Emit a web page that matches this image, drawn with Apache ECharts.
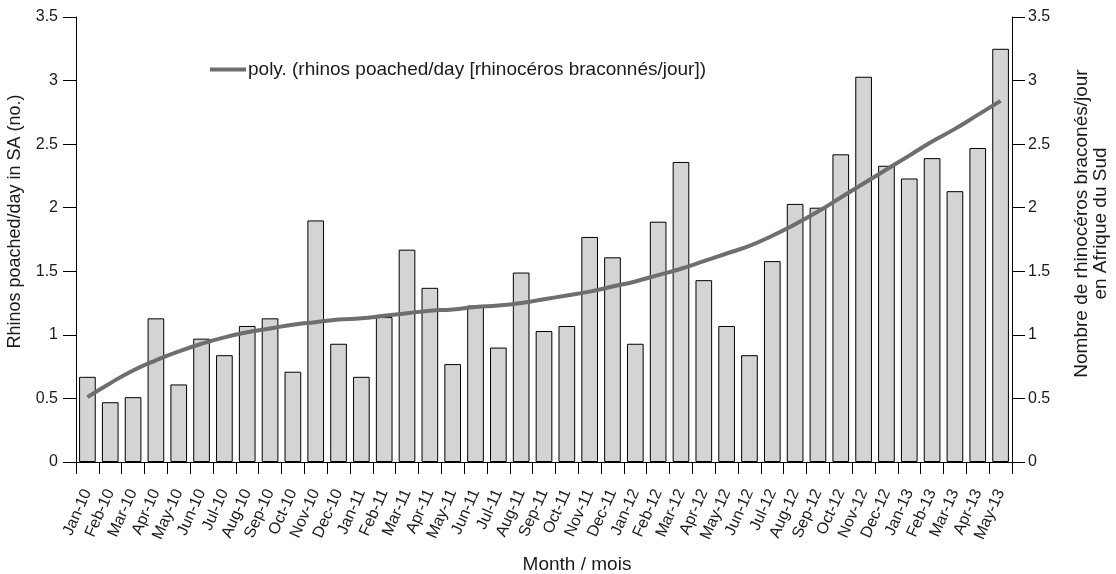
<!DOCTYPE html>
<html>
<head>
<meta charset="utf-8">
<script src="https://cdn.jsdelivr.net/npm/echarts@6/dist/echarts.min.js"></script>
<style>
  html, body { margin: 0; padding: 0; background: #fff; }
  #chart { width: 1116px; height: 574px; }
</style>
</head>
<body>
<div id="chart"></div>
<script>
// months Jan-10 .. May-13
var months = ['Jan-10','Feb-10','Mar-10','Apr-10','May-10','Jun-10','Jul-10','Aug-10','Sep-10','Oct-10','Nov-10','Dec-10',
  'Jan-11','Feb-11','Mar-11','Apr-11','May-11','Jun-11','Jul-11','Aug-11','Sep-11','Oct-11','Nov-11','Dec-11',
  'Jan-12','Feb-12','Mar-12','Apr-12','May-12','Jun-12','Jul-12','Aug-12','Sep-12','Oct-12','Nov-12','Dec-12',
  'Jan-13','Feb-13','Mar-13','Apr-13','May-13'];
// rhinos poached per day (bars)
var poached = [0.67,0.47,0.51,1.13,0.61,0.97,0.84,1.07,1.13,0.71,1.90,0.93,
  0.67,1.14,1.67,1.37,0.77,1.23,0.90,1.49,1.03,1.07,1.77,1.61,
  0.93,1.89,2.36,1.43,1.07,0.84,1.58,2.03,2.00,2.42,3.03,2.33,
  2.23,2.39,2.13,2.47,3.25];
// polynomial trend
var trend = [0.51,0.62,0.72,0.80,0.87,0.93,0.98,1.02,1.05,1.08,1.10,1.12,
  1.13,1.15,1.17,1.19,1.20,1.22,1.23,1.25,1.28,1.31,1.34,1.38,
  1.42,1.47,1.52,1.58,1.64,1.70,1.78,1.87,1.97,2.08,2.19,2.30,
  2.41,2.52,2.62,2.73,2.84];
var yTicks = { min: 0, max: 3.5, interval: 0.5 };

var font = '"Liberation Sans", Arial, sans-serif';
var ink = '#1a1a1a';

var chart = echarts.init(document.getElementById('chart'));
chart.setOption({
  animation: false,
  textStyle: { fontFamily: font, color: ink },
  grid: { left: 76, right: 104, top: 17, bottom: 112, containLabel: false, outerBoundsMode: 'none' },
  legend: {
    left: 205, top: 55,
    data: [{ name: 'poly. (rhinos poached/day [rhinocéros braconnés/jour])', icon: 'rect' }],
    itemWidth: 36, itemHeight: 4,
    textStyle: { fontSize: 19, color: ink, fontFamily: font, padding: [0, 0, 0, -3] }
  },
  xAxis: {
    type: 'category',
    data: months,
    name: 'Month / mois',
    nameLocation: 'middle',
    nameGap: 93,
    nameTextStyle: { fontSize: 19, color: ink, padding: [0, 0, 0, 66] },
    axisLine: { lineStyle: { color: '#000', width: 1 } },
    axisTick: { show: true, length: 12, interval: 0, lineStyle: { color: '#000' } },
    axisLabel: { rotate: 66, interval: 0, fontSize: 16, color: ink, margin: 28 }
  },
  yAxis: [{
    type: 'value',
    min: yTicks.min, max: yTicks.max, interval: yTicks.interval,
    name: 'Rhinos poached/day in SA (no.)',
    nameLocation: 'middle',
    nameRotate: 90,
    nameGap: 52,
    nameTextStyle: { fontSize: 18, color: ink, padding: [0, 0, 0, 36] },
    axisLine: { show: true, lineStyle: { color: '#000' } },
    axisTick: { show: true, length: 13, lineStyle: { color: '#000' } },
    axisLabel: { fontSize: 16, color: ink, margin: 18 },
    splitLine: { show: false }
  }, {
    type: 'value',
    position: 'right',
    min: yTicks.min, max: yTicks.max, interval: yTicks.interval,
    name: 'Nombre de rhinocéros braconés/jour\nen Afrique du Sud',
    nameLocation: 'middle',
    nameRotate: 90,
    nameGap: 60,
    nameTextStyle: { fontSize: 19, color: ink, lineHeight: 19, padding: [0, 0, 0, 32] },
    axisLine: { show: true, lineStyle: { color: '#000' } },
    axisTick: { show: true, length: 13, lineStyle: { color: '#000' } },
    axisLabel: { fontSize: 16, color: ink, margin: 16 },
    splitLine: { show: false }
  }],
  series: [{
    name: 'rhinos poached/day',
    type: 'bar',
    data: poached,
    barCategoryGap: '27%',
    itemStyle: { color: '#d3d4d6', borderColor: '#000', borderWidth: 1 }
  }, {
    name: 'poly. (rhinos poached/day [rhinocéros braconnés/jour])',
    type: 'line',
    data: trend,
    smooth: true,
    symbol: 'none',
    itemStyle: { color: '#6e6e6e' },
    lineStyle: { color: '#6e6e6e', width: 4 }
  }]
});
</script>
</body>
</html>
